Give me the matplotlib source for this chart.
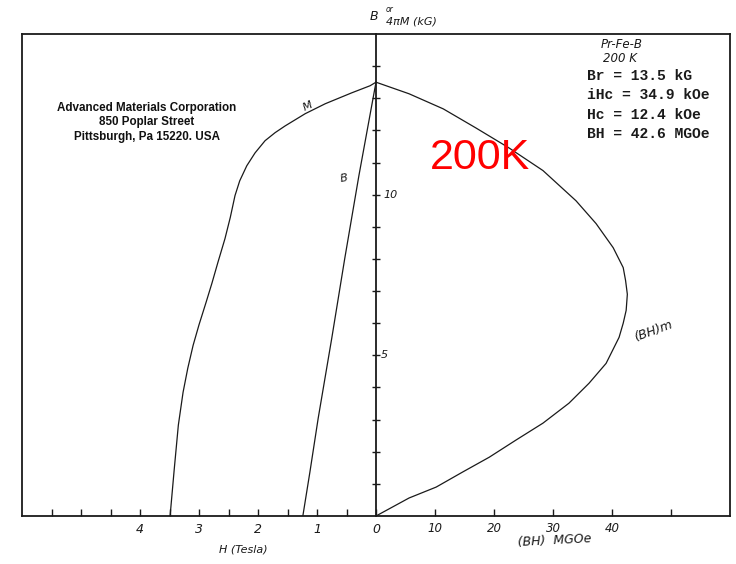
import matplotlib
matplotlib.use("Agg")
import matplotlib.pyplot as plt

# Demagnetisation data, Pr-Fe-B at 200 K
# intrinsic curve 4piM (kG) against reverse field H (Tesla)
h_m = [0.0, -0.10, -0.41, -0.86, -1.20, -1.54, -1.71, -1.88, -2.05, -2.19,
       -2.31, -2.39, -2.47, -2.56, -2.68, -2.78, -2.88, -3.00, -3.10, -3.19,
       -3.27, -3.35, -3.42, -3.49]
m_kg = [13.5, 13.39, 13.17, 12.83, 12.52, 12.14, 11.93, 11.68, 11.30, 10.90,
        10.43, 9.97, 9.29, 8.63, 7.89, 7.25, 6.65, 5.95, 5.31, 4.60,
        3.85, 2.83, 1.45, 0.0]

# normal curve B (kG) against H (Tesla)
h_b = [0.0, -0.29, -0.53, -0.75, -0.98, -1.12, -1.24]
b_kg = [13.5, 10.59, 8.01, 5.53, 3.04, 1.37, 0.0]

# energy product (BH) in MGOe against B (kG)
bh_mgoe = [0.0, 5.6, 11.4, 16.9, 22.5, 28.3, 33.9, 37.3, 40.2, 41.9, 42.3, 42.6,
           42.4, 41.9, 41.2, 39.0, 36.1, 32.7, 28.3, 23.7, 19.2, 14.7, 10.2,
           5.6, 1.2, 0.0]
bh_b_kg = [13.5, 13.14, 12.67, 12.08, 11.46, 10.75, 9.81, 9.10, 8.35, 7.73, 7.33,
           6.9, 6.40, 6.0, 5.56, 4.75, 4.13, 3.51, 2.89, 2.36, 1.83, 1.37, 0.90,
           0.56, 0.12, 0.0]

h_ticks = [-5.5, -5.0, -4.5, -4.0, -3.5, -3.0, -2.5, -2.0, -1.5, -1.0, -0.5, 0.0]
h_labels = ["", "", "", "4", "", "3", "", "2", "", "1", "", "0"]
bh_ticks = [10, 20, 30, 40, 50]
bh_labels = ["10", "20", "30", "40", ""]
b_ticks = list(range(1, 15))

summary = ["Br = 13.5 kG", "iHc = 34.9 kOe", "Hc = 12.4 kOe", "BH = 42.6 MGOe"]
company = ["Advanced Materials Corporation", "850 Poplar Street",
           "Pittsburgh, Pa 15220. USA"]

W, H = 736, 564
INK = "#1a1a1a"
hand = dict(family="DejaVu Sans", style="italic", color=INK)


def px(x, y):
    return x / W, 1 - y / H


fig = plt.figure(figsize=(W / 100, H / 100), dpi=100)
fig.patch.set_facecolor("white")

ax = fig.add_axes([22 / W, 48 / H, 708 / W, 482 / H])
ax.set_xlim(-6, 6)
ax.set_ylim(0, 15)

# second x scale for the energy product, same box
ax_bh = ax.twiny()
ax_bh.set_xlim(-60, 60)

# frame drawn by the BH axes, vertical B axis at H = 0 on the main axes
for side in ["top", "right", "bottom"]:
    ax.spines[side].set_visible(False)
ax.spines["left"].set_position(("data", 0))
ax.spines["left"].set_linewidth(1.3)
ax.spines["left"].set_color(INK)
for side in ["top", "right", "bottom", "left"]:
    ax_bh.spines[side].set_linewidth(1.3)
    ax_bh.spines[side].set_color(INK)

ax.plot(h_m, m_kg, color=INK, lw=0.9)
ax.plot(h_b, b_kg, color=INK, lw=0.9)
ax_bh.plot(bh_mgoe, bh_b_kg, color=INK, lw=0.9)

ax.set_yticks(b_ticks)
ax.tick_params(axis="y", direction="inout", length=6, width=1, color=INK,
               labelleft=False)
ax.set_xticks(h_ticks)
ax.set_xticklabels(h_labels)
ax.tick_params(axis="x", direction="in", length=5, width=1, color=INK, pad=5,
               labelsize=9, labelcolor=INK)
for lab in ax.get_xticklabels():
    lab.set_style("italic")

ax_bh.xaxis.set_ticks_position("bottom")
ax_bh.xaxis.set_label_position("bottom")
ax_bh.set_xticks(bh_ticks)
ax_bh.set_xticklabels(bh_labels)
ax_bh.tick_params(axis="x", direction="in", length=5, width=1, color=INK, pad=4,
                  labelsize=8.5, labelcolor=INK)
for lab in ax_bh.get_xticklabels():
    lab.set_style("italic")

# hand lettering on the chart
ax.text(0.12, 10, "10", fontsize=8, va="center", ha="left", **hand)
ax.text(0.08, 5, "5", fontsize=8, va="center", ha="left", **hand)
ax.text(-1.15, 12.75, "M", fontsize=8, rotation=25, ha="center", va="center", **hand)
ax.text(-0.55, 10.5, "B", fontsize=8, rotation=10, ha="center", va="center", **hand)
ax_bh.text(47, 5.75, "(BH)m", fontsize=9, rotation=20, ha="center", va="center", **hand)

fig.text(*px(374, 16), "B", fontsize=9, ha="center", va="center", **hand)
fig.text(*px(390, 9), "or", fontsize=5.5, ha="center", va="center", **hand)
fig.text(*px(411, 21), "4πM (kG)", fontsize=8, ha="center", va="center", **hand)
fig.text(*px(243, 550), "H (Tesla)", fontsize=8, ha="center", va="center", **hand)
fig.text(*px(555, 541), "(BH)  MGOe", fontsize=9, ha="center", va="center",
         rotation=3, **hand)
fig.text(*px(622, 44), "Pr-Fe-B", fontsize=8.5, ha="center", va="center", **hand)
fig.text(*px(620, 59), "200 K", fontsize=8.5, ha="center", va="center", **hand)

for i, line in enumerate(summary):
    fig.text(*px(587, 76 + i * 19.3), line, fontsize=10.5, family="Liberation Mono",
             weight="bold", ha="left", va="center", color=INK)

for i, line in enumerate(company):
    fig.text(*px(147, 108 + i * 14.5), line, fontsize=8.4, family="Liberation Sans",
             weight="bold", ha="center", va="center", color="#111111")

fig.text(*px(480, 158), "200K", fontsize=31, family="Liberation Sans",
         color="#ff0000", ha="center", va="center")

fig.savefig("out.png", dpi=100, facecolor="white")
